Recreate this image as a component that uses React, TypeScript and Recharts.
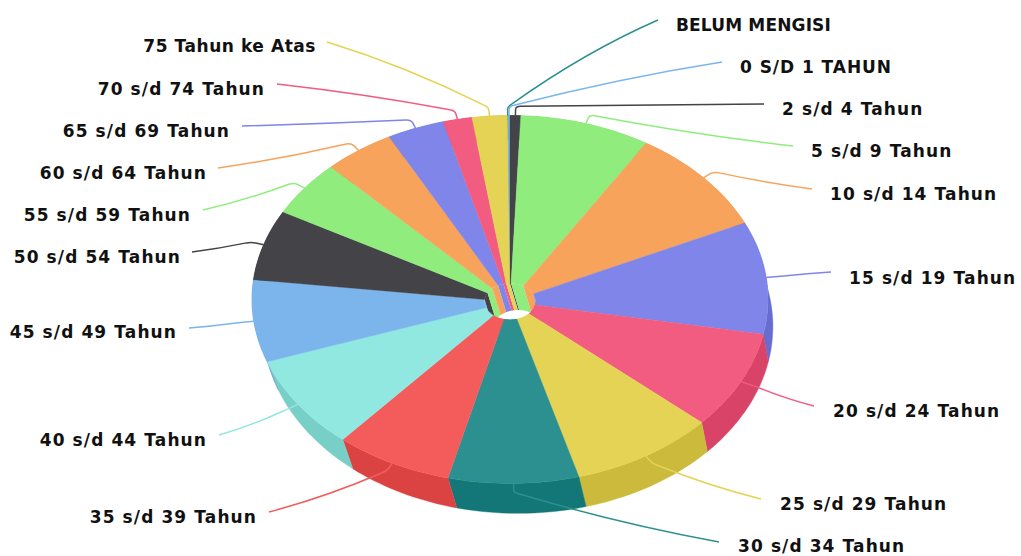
import { Pie, PieChart } from "recharts";

const categories = [
  "BELUM MENGISI", "0 S/D 1 TAHUN", "2 s/d 4 Tahun", "5 s/d 9 Tahun", "10 s/d 14 Tahun", "15 s/d 19 Tahun",
  "20 s/d 24 Tahun", "25 s/d 29 Tahun", "30 s/d 34 Tahun", "35 s/d 39 Tahun", "40 s/d 44 Tahun", "45 s/d 49 Tahun",
  "50 s/d 54 Tahun", "55 s/d 59 Tahun", "60 s/d 64 Tahun", "65 s/d 69 Tahun", "70 s/d 74 Tahun", "75 Tahun ke Atas",
];
const values = [0.2, 0.4, 2.4, 29.4, 33.6, 35.5, 31.1, 32.5, 29.4, 26.5, 29.8, 26, 22.2, 17.7, 16, 12.9, 6.5, 7.9];
const colors = [
  "#2b908f", "#7cb5ec", "#434348", "#90ed7d", "#f7a35c", "#8085e9", "#f15c80", "#e4d354", "#2b908f",
  "#f45b5b", "#91e8e1", "#7cb5ec", "#434348", "#90ed7d", "#f7a35c", "#8085e9", "#f15c80", "#e4d354",
];

// where each connector stops, and where its label goes [endX, endY, textX, textY]
const labelLayout = [
  [658, 20, 676, 25], [722, 62, 740, 67], [764, 104, 782, 109], [793, 146, 811, 151], [812, 189, 830, 194],
  [831, 272, 849, 278], [814, 406, 833, 411], [761, 499, 780, 504], [719, 542, 738, 546], [269, 512, 257, 517],
  [219, 435, 207, 440], [189, 328, 177, 332], [192, 252, 181, 257], [203, 210, 191, 215], [218, 168, 207, 173],
  [242, 126, 230, 131], [277, 84, 265, 89], [327, 42, 316, 46],
];
const labelSpacing = [0.15, 0.95, 1.1, 1.1, 1.1, 1.1, 1.1, 1.1, 1.1, 1.1, 1.1, 1.1, 1.1, 1.1, 1.1, 1.1, 1.1, 0.55];

const data = categories.map((name, i) => ({ name, value: values[i], fill: colors[i] }));

const SQUASH = 0.713;
const FLOOR_SQUASH = 0.733;
const FLOOR_SCALE = 0.988;
const WALL_X = 8;
const WALL_Y = 27;
const HOLE_Y = 2;
const HOLE_WALL_Y = 29;

function darken(hex: string) {
  const n = parseInt(hex.slice(1), 16);
  const ch = [n >> 16, (n >> 8) & 255, n & 255].map((c) => Math.max(0, Math.round(c - 25.5)));
  return `rgb(${ch.join(",")})`;
}

function onEllipse(cx: number, cy: number, r: number, angle: number, squash = SQUASH) {
  const a = (angle * Math.PI) / 180;
  return [cx + r * Math.cos(a), cy - r * squash * Math.sin(a)];
}

function arc(cx: number, cy: number, r: number, from: number, to: number, squash = SQUASH) {
  const steps = Math.max(2, Math.ceil(Math.abs(from - to) / 1.5));
  const pts: number[][] = [];
  for (let i = 0; i <= steps; i++) pts.push(onEllipse(cx, cy, r, from + ((to - from) * i) / steps, squash));
  return pts;
}

const toPath = (pts: number[][]) => "M" + pts.map((p) => `${p[0].toFixed(1)},${p[1].toFixed(1)}`).join("L") + "Z";

function TopFace(props: any) {
  const { cx, cy, innerRadius, outerRadius, startAngle, endAngle, fill } = props;
  const pts = [
    ...arc(cx, cy, outerRadius, startAngle, endAngle),
    ...arc(cx, cy + HOLE_Y, innerRadius, endAngle, startAngle),
  ];
  return <path d={toPath(pts)} fill={fill} stroke={fill} strokeWidth={0.4} />;
}

function Walls(props: any) {
  const { cx, cy, innerRadius, outerRadius, startAngle, endAngle, fill } = props;
  const band = (r: number, topY: number, floorY: number) => [
    ...arc(cx, topY, r, startAngle, endAngle),
    ...arc(cx + WALL_X, cy + floorY, r * FLOOR_SCALE, endAngle, startAngle, FLOOR_SQUASH),
  ];
  const shade = darken(fill);
  return (
    <g>
      <path d={toPath(band(outerRadius, cy, WALL_Y))} fill={shade} stroke={shade} strokeWidth={0.4} />
      <path d={toPath(band(innerRadius, cy + HOLE_Y, HOLE_WALL_Y))} fill={fill} />
    </g>
  );
}

function SliceLabel(props: any) {
  const { cx, cy, outerRadius, midAngle, index, fill } = props;
  const [endX, endY, textX, textY] = labelLayout[index];
  const [ax, ay] = onEllipse(cx, cy, outerRadius, midAngle);
  const [bx, by] = onEllipse(cx, cy, outerRadius * 1.05, midAngle);
  const len = Math.hypot(endX - bx, endY - by);
  const nextX = bx + ((endX - bx) / len) * 5;
  const nextY = by + ((endY - by) / len) * 5;
  const prevX = bx + (ax - bx) * 0.35;
  const prevY = by + (ay - by) * 0.35;
  // the long run flattens out as it nears the label
  const bendX = (nextX + endX) / 2;
  const bendY = (nextY + endY) / 2 + (endY - nextY) * 0.12;
  return (
    <g>
      <path
        d={`M${ax},${ay}L${prevX},${prevY}Q${bx},${by} ${nextX},${nextY}Q${bendX},${bendY} ${endX},${endY}`}
        fill="none"
        stroke={fill}
        strokeWidth={1.5}
      />
      <text
        x={textX}
        y={textY}
        dy="0.35em"
        textAnchor={endX > cx ? "start" : "end"}
        fontFamily="'DejaVu Sans', sans-serif"
        fontWeight="bold"
        fontSize={17}
        letterSpacing={labelSpacing[index]}
        fill="#111"
      >
        {categories[index]}
      </text>
    </g>
  );
}

export default function App() {
  const pieProps = {
    data,
    dataKey: "value",
    nameKey: "name",
    cx: 510,
    cy: 299.5,
    innerRadius: 25.5,
    outerRadius: 258,
    startAngle: 90.6,
    endAngle: -269.4,
    stroke: "none",
    isAnimationActive: false,
  };
  return (
    <div style={{ position: "absolute", left: 0, top: 0, background: "#fff" }}>
      <PieChart width={1021} height={556} margin={{ top: 0, right: 0, bottom: 0, left: 0 }}>
        <Pie {...pieProps} shape={Walls} label={false} labelLine={false} />
        <Pie {...pieProps} shape={TopFace} label={SliceLabel} labelLine={false} />
      </PieChart>
    </div>
  );
}
